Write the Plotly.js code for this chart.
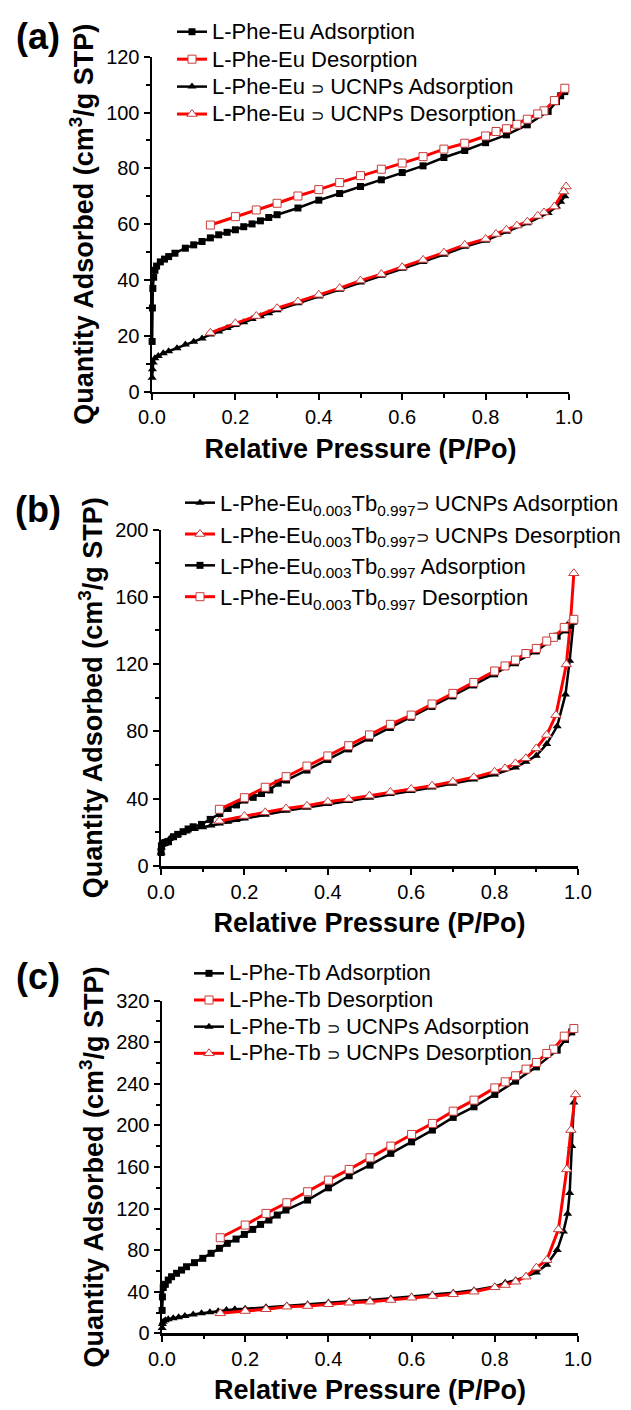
<!DOCTYPE html>
<html>
<head>
<meta charset="utf-8">
<script src="https://cdn.plot.ly/plotly-3.0.1.min.js"></script>
<style>
  html, body { margin: 0; padding: 0; background: #ffffff; }
  #chart { width: 631px; height: 1410px; }
</style>
</head>
<body>
<div id="chart"></div>
<script>
// ---- (a) L-Phe-Eu and L-Phe-Eu ⊃ UCNPs N2 isotherms ----
const A_EU_ADS_P = [0.0003,0.001,0.002,0.004,0.007,0.011,0.02,0.03,0.04,0.055,0.08,0.10,0.12,0.14,0.16,0.18,0.20,0.22,0.24,0.26,0.28,0.30,0.35,0.40,0.45,0.50,0.55,0.60,0.65,0.70,0.75,0.80,0.85,0.90,0.95,0.97,0.98,0.99];
const A_EU_ADS_V = [18,30,37,41,43.5,45,46.5,47.5,48.4,49.6,51.4,52.6,53.8,55.1,56.2,57.1,58.0,59.1,60.1,61.2,62.4,63.4,65.8,68.6,71.0,73.5,75.9,78.5,80.9,83.9,86.4,89.2,92.0,95.6,100.4,103.9,106.0,107.5];
const A_EU_DES_P = [0.99,0.965,0.94,0.925,0.90,0.875,0.85,0.825,0.80,0.75,0.70,0.65,0.60,0.55,0.50,0.45,0.40,0.35,0.30,0.25,0.20,0.14];
const A_EU_DES_V = [108.7,104.3,100.6,99.5,97.6,95.8,94.2,93.2,91.6,89.0,86.9,84.2,81.9,79.7,77.4,74.9,72.4,70.1,67.5,65.1,62.7,59.7];
const A_UC_ADS_P = [0.0003,0.001,0.003,0.007,0.015,0.027,0.04,0.06,0.08,0.10,0.12,0.14,0.16,0.18,0.20,0.22,0.24,0.26,0.28,0.30,0.35,0.40,0.45,0.50,0.55,0.60,0.65,0.70,0.75,0.80,0.85,0.90,0.95,0.97,0.98,0.99];
const A_UC_ADS_V = [5,8,10.5,12,12.8,13.8,14.5,15.6,16.9,17.9,19.1,20.5,21.6,22.8,23.9,24.9,26.0,27.0,28.1,29.2,31.7,34.1,36.5,39.1,41.5,44.0,46.5,49.1,51.9,54.1,57.3,60.3,64.0,66.3,68.0,70.0];
const A_UC_DES_P = [0.993,0.987,0.965,0.94,0.925,0.90,0.875,0.85,0.825,0.80,0.75,0.70,0.65,0.60,0.55,0.50,0.45,0.40,0.35,0.30,0.25,0.20,0.14];
const A_UC_DES_V = [73.5,71.7,66.3,64.2,63.0,60.9,59.5,58.0,56.5,54.7,52.6,49.8,47.2,44.6,42.1,39.8,37.1,34.7,32.3,29.9,27.1,24.5,21.1];

// ---- (b) L-Phe-Eu0.003Tb0.997 and its UCNPs composite ----
const B_UC_ADS_P = [0.0003,0.001,0.005,0.01,0.02,0.04,0.06,0.08,0.10,0.12,0.14,0.16,0.18,0.20,0.25,0.30,0.35,0.40,0.45,0.50,0.55,0.60,0.65,0.70,0.75,0.80,0.85,0.875,0.90,0.925,0.95,0.97,0.98,0.99];
const B_UC_ADS_V = [8,11,13,14.5,16,18.5,20.5,22,23,24,25.3,26.3,27.3,28.2,30.5,32.8,34.6,36.8,38.6,40.6,42.8,44.6,46.6,48.9,51.4,54.4,58.5,62,65.5,72.5,83,102,122,147];
const B_UC_DES_P = [0.99,0.982,0.972,0.947,0.925,0.90,0.875,0.85,0.825,0.80,0.75,0.70,0.65,0.60,0.55,0.50,0.45,0.40,0.35,0.30,0.25,0.20,0.14];
const B_UC_DES_V = [174,145,119.8,89.7,77.9,69.9,64.0,61.0,58.0,56.0,52.7,50.1,47.7,45.8,44.0,41.8,39.8,38.2,35.8,34.2,31.9,29.7,26.8];
const B_EU_ADS_P = [0.0003,0.001,0.004,0.01,0.018,0.03,0.04,0.053,0.065,0.077,0.097,0.118,0.141,0.161,0.181,0.201,0.221,0.241,0.261,0.281,0.301,0.35,0.40,0.45,0.50,0.55,0.60,0.65,0.70,0.75,0.80,0.85,0.90,0.95,0.97,0.98,0.99];
const B_EU_ADS_V = [8,12,13.5,14,14.4,17.4,18.8,20.4,22,23.3,24.7,27.7,31.2,34.2,36.3,39.2,40.8,43.1,45.2,49.2,51.1,57.0,63.3,69.6,76.0,82.3,88.4,94.8,101.1,107.6,114.2,120.8,127.8,136.6,140.3,143.0,145.5];
const B_EU_DES_P = [0.99,0.967,0.941,0.925,0.90,0.875,0.85,0.825,0.80,0.75,0.70,0.65,0.60,0.55,0.50,0.45,0.40,0.35,0.30,0.25,0.20,0.14];
const B_EU_DES_V = [146.6,141.8,135.9,133.7,129.3,126.3,122.4,118.9,115.9,109.1,102.6,96.3,89.7,84.2,77.9,71.5,65.4,59.4,53.1,46.8,40.6,33.7];

// ---- (c) L-Phe-Tb and L-Phe-Tb ⊃ UCNPs ----
const C_TB_ADS_P = [0.0003,0.001,0.003,0.008,0.015,0.023,0.035,0.047,0.059,0.078,0.098,0.118,0.138,0.157,0.178,0.198,0.218,0.237,0.257,0.277,0.298,0.35,0.40,0.45,0.50,0.55,0.60,0.65,0.70,0.75,0.80,0.85,0.90,0.95,0.97,0.985];
const C_TB_ADS_V = [22,35,44,47.1,51.2,54.4,57.7,60.8,64.0,67.9,72.1,76.9,81.7,86.5,90.6,95.1,99.9,104.7,108.9,113.7,118.5,128.1,139.9,151.5,161.7,173.0,184.1,195.4,207.6,217.8,229.7,242.5,256.2,272.3,282.5,289.8];
const C_TB_DES_P = [0.99,0.967,0.941,0.925,0.90,0.875,0.85,0.825,0.80,0.75,0.70,0.65,0.60,0.55,0.50,0.45,0.40,0.35,0.30,0.25,0.20,0.14];
const C_TB_DES_V = [293.1,285.7,273.2,269.1,260.4,254.0,247.6,241.8,236.0,224.2,213.6,201.8,191.2,180.0,168.8,157.6,147.3,136.1,125.5,115.3,104.1,91.9];
const C_UC_ADS_P = [0.0003,0.001,0.003,0.008,0.015,0.027,0.04,0.055,0.075,0.095,0.115,0.135,0.155,0.175,0.20,0.25,0.30,0.35,0.40,0.45,0.50,0.55,0.60,0.65,0.70,0.75,0.80,0.825,0.85,0.875,0.90,0.925,0.95,0.965,0.975,0.98,0.985,0.99];
const C_UC_ADS_V = [5,9,11.2,12.5,13.5,14.4,15.5,16.6,18,19.2,20.2,21.2,22.4,23.1,23.5,25,26.8,28,29.5,30.8,32,33.5,35.5,37.3,39,41.5,45,48.5,51,54.5,58.5,66,80,98,115,135,180,222];
const C_UC_DES_P = [0.994,0.983,0.973,0.953,0.925,0.90,0.875,0.85,0.825,0.80,0.75,0.70,0.65,0.60,0.55,0.50,0.45,0.40,0.35,0.30,0.25,0.20,0.14];
const C_UC_DES_V = [229.7,195.4,157.6,99.9,70.4,63.1,54.4,49.6,46.4,44.2,40.0,37.5,35.8,34.2,32.0,30.4,29.4,27.9,26.2,25.6,23.1,21.4,19.2];

// ---- legend labels ----
const SUP = '<span style="font-size:16px">\u2283</span>';   // "included in" sign, set a little smaller
const EUTB = 'L-Phe-Eu<sub>0.003</sub>Tb<sub>0.997</sub>';
const NAMES_A = ['L-Phe-Eu Adsorption', 'L-Phe-Eu Desorption', 'L-Phe-Eu ' + SUP + ' UCNPs Adsorption', 'L-Phe-Eu ' + SUP + ' UCNPs Desorption'];
const NAMES_B = [EUTB + SUP + ' UCNPs Adsorption', EUTB + SUP + ' UCNPs Desorption', EUTB + ' Adsorption', EUTB + ' Desorption'];
const NAMES_C = ['L-Phe-Tb Adsorption', 'L-Phe-Tb Desorption', 'L-Phe-Tb ' + SUP + ' UCNPs Adsorption', 'L-Phe-Tb ' + SUP + ' UCNPs Desorption'];

const FONT = 'Arial, "Liberation Sans", sans-serif';
const W = 631, H = 1410;
const RED = '#ff0000';
const EDGE = '#c83c3c';
const LEGEND_TEXT = 22;   // drawn size of legend labels

// adsorption: black line, solid markers; desorption: red line, hollow markers
function curve(x, y, name, desorb, symbol, panel) {
  const ax = panel === 1 ? '' : String(panel);
  return {
    type: 'scatter', mode: 'lines+markers', x: x, y: y,
    name: '<span style="font-size:' + LEGEND_TEXT + 'px">' + name + '</span>',
    xaxis: 'x' + ax, yaxis: 'y' + ax,
    legend: panel === 1 ? 'legend' : 'legend' + panel,
    line: { color: desorb ? RED : '#000000', width: desorb ? 3 : 2.5 },
    marker: desorb
      ? { symbol: symbol, size: symbol === 'square' ? 8 : 9, color: '#ffffff', line: { color: EDGE, width: 1 } }
      : { symbol: symbol, size: symbol === 'square' ? 7 : 8, color: '#000000', line: { width: 0 } },
    cliponaxis: false
  };
}

const traces = [
  curve(A_EU_ADS_P, A_EU_ADS_V, NAMES_A[0], false, 'square', 1),
  curve(A_EU_DES_P, A_EU_DES_V, NAMES_A[1], true, 'square', 1),
  curve(A_UC_ADS_P, A_UC_ADS_V, NAMES_A[2], false, 'triangle-up', 1),
  curve(A_UC_DES_P, A_UC_DES_V, NAMES_A[3], true, 'triangle-up', 1),

  curve(B_UC_ADS_P, B_UC_ADS_V, NAMES_B[0], false, 'triangle-up', 2),
  curve(B_UC_DES_P, B_UC_DES_V, NAMES_B[1], true, 'triangle-up', 2),
  curve(B_EU_ADS_P, B_EU_ADS_V, NAMES_B[2], false, 'square', 2),
  curve(B_EU_DES_P, B_EU_DES_V, NAMES_B[3], true, 'square', 2),

  curve(C_TB_ADS_P, C_TB_ADS_V, NAMES_C[0], false, 'square', 3),
  curve(C_TB_DES_P, C_TB_DES_V, NAMES_C[1], true, 'square', 3),
  curve(C_UC_ADS_P, C_UC_ADS_V, NAMES_C[2], false, 'triangle-up', 3),
  curve(C_UC_DES_P, C_UC_DES_V, NAMES_C[3], true, 'triangle-up', 3)
];

// pixel boxes of the three plot areas: [left, right, top, bottom]
const BOX = [
  [152, 569, 56.7, 391.7],
  [161, 578, 529.5, 866],
  [162, 578, 1000.5, 1333.3]
];
const YMAX = [120, 200, 320];

function xAxis(i) {
  const b = BOX[i];
  return {
    domain: [b[0] / W, b[1] / W], anchor: i === 0 ? 'y' : 'y' + (i + 1),
    range: [0, 1], dtick: 0.2, tick0: 0, tickformat: '.1f',
    showline: true, linecolor: '#000000', linewidth: 2.5,
    ticks: 'outside', ticklen: 6, tickwidth: 2, tickcolor: '#000000',
    minor: { ticks: 'outside', dtick: 0.1, ticklen: 3.5, tickwidth: 2, tickcolor: '#000000', showgrid: false },
    showgrid: false, zeroline: false,
    tickfont: { family: FONT, size: 20, color: '#000000' },
    title: { text: '<b>Relative Pressure (P/Po)</b>', font: { family: FONT, size: 27, color: '#000000' }, standoff: 12 }
  };
}
function yAxis(i) {
  const b = BOX[i];
  const step = i === 0 ? 20 : 40;
  return {
    domain: [1 - b[3] / H, 1 - b[2] / H], anchor: i === 0 ? 'x' : 'x' + (i + 1),
    range: [0, YMAX[i]], dtick: step, tick0: 0,
    showline: true, linecolor: '#000000', linewidth: 2.5,
    ticks: 'outside', ticklen: 6, tickwidth: 2, tickcolor: '#000000',
    minor: { ticks: 'outside', dtick: step / 2, ticklen: 3.5, tickwidth: 2, tickcolor: '#000000', showgrid: false },
    showgrid: false, zeroline: false,
    tickfont: { family: FONT, size: 20, color: '#000000' },
    title: { text: '<b>Quantity Adsorbed (cm<sup>3</sup>/g STP)</b>', font: { family: FONT, size: 27, color: '#000000' }, standoff: 5 }
  };
}
// rowFont sets the row pitch of each legend (pitch = 1.3 * rowFont + 3)
function legendAt(left, top, rowFont) {
  return {
    x: left / W, y: 1 - top / H, xanchor: 'left', yanchor: 'top',
    bgcolor: 'rgba(0,0,0,0)', borderwidth: 0, tracegroupgap: 0,
    font: { family: FONT, size: rowFont, color: '#000000' }
  };
}

const layout = {
  width: W, height: H,
  margin: { l: 0, r: 0, t: 0, b: 0 },
  paper_bgcolor: '#ffffff', plot_bgcolor: '#ffffff',
  showlegend: true,
  xaxis: xAxis(0), yaxis: yAxis(0),
  xaxis2: xAxis(1), yaxis2: yAxis(1),
  xaxis3: xAxis(2), yaxis3: yAxis(2),
  legend: legendAt(172, 13, 18.8),
  legend2: legendAt(180, 482, 21.8),
  legend3: legendAt(189, 955, 18.2),
  annotations: [
    ['(a)', 36], ['(b)', 509], ['(c)', 977]
  ].map(p => ({
    text: '<b>' + p[0] + '</b>', xref: 'paper', yref: 'paper',
    x: 38 / W, y: 1 - p[1] / H, xanchor: 'center', yanchor: 'middle',
    showarrow: false, font: { family: FONT, size: 36, color: '#000000' }
  }))
};

Plotly.newPlot('chart', traces, layout, { staticPlot: true, displayModeBar: false });
</script>
</body>
</html>
